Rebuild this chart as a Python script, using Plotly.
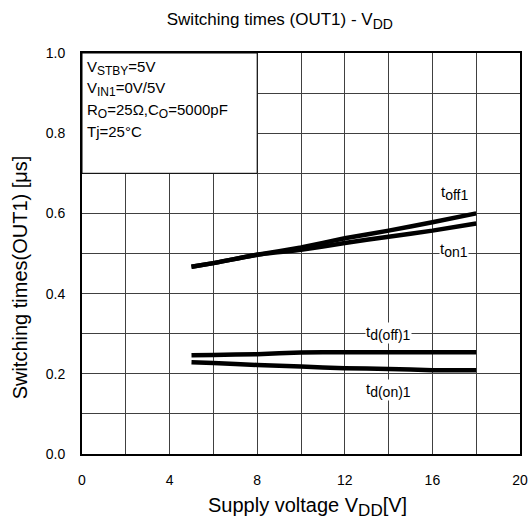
import plotly.graph_objects as go

# Supply voltage VDD [V]
vdd = [5, 6, 8, 10, 12, 14, 16, 18]

# Switching times [us]
t_off1 = [0.467, 0.476, 0.497, 0.515, 0.538, 0.557, 0.578, 0.600]
t_on1 = [0.467, 0.476, 0.497, 0.509, 0.526, 0.542, 0.557, 0.575]
td_off1 = [0.246, 0.247, 0.249, 0.253, 0.254, 0.254, 0.254, 0.254]
td_on1 = [0.229, 0.227, 0.222, 0.218, 0.214, 0.212, 0.209, 0.209]

x_ticks = [0, 4, 8, 12, 16, 20]
y_ticks = [0.0, 0.2, 0.4, 0.6, 0.8, 1.0]
y_tick_text = ["0.0", "0.2", "0.4", "0.6", "0.8", "1.0"]

FONT = "Liberation Sans, Arial, sans-serif"


def sub(txt, px):
    """Subscript with an explicit size (plotly's default 70% is too small)."""
    return f'<sub><span style="font-size:{px}px">{txt}</span></sub>'


conditions = [
    "V" + sub("STBY", 12) + "=5V",
    "V" + sub("IN1", 12) + "=0V/5V",
    "R" + sub("O", 12) + "=25Ω,C" + sub("O", 12) + "=5000pF",
    "Tj=25°C",
]

fig = go.Figure()
for ys in (t_off1, t_on1, td_off1, td_on1):
    fig.add_trace(go.Scatter(
        x=vdd, y=ys, mode="lines",
        line=dict(color="black", width=4.5, shape="spline", smoothing=0.4),
        showlegend=False, hoverinfo="skip",
    ))

# Conditions box in the upper-left corner
fig.add_shape(type="rect", x0=0, x1=8, y0=0.7, y1=1.0, xref="x", yref="y",
              line=dict(color="black", width=1), fillcolor="white", layer="above")

cond_y = [0.963, 0.909, 0.855, 0.804]
for txt, yy in zip(conditions, cond_y):
    fig.add_annotation(x=0.12, y=yy, xref="x", yref="y", text=txt, showarrow=False,
                       xanchor="left", yanchor="middle",
                       font=dict(family=FONT, size=15, color="black"))

# Curve labels
labels = [
    ("t" + sub("off1", 14), 17.0, 0.650, None),
    ("t" + sub("on1", 14), 17.0, 0.508, "white"),
    ("t" + sub("d(off)1", 14), 14.0, 0.302, "white"),
    ("t" + sub("d(on)1", 14), 14.0, 0.160, "white"),
]
for txt, xx, yy, bg in labels:
    fig.add_annotation(x=xx, y=yy, xref="x", yref="y", text=txt, showarrow=False,
                       xanchor="center", yanchor="middle", bgcolor=bg, borderpad=0,
                       font=dict(family=FONT, size=15, color="black"))

# Axis titles
fig.add_annotation(x=0.514, y=-0.132, xref="paper", yref="paper",
                   text="Supply voltage V" + sub("DD", 17) + "[V]", showarrow=False,
                   xanchor="center", yanchor="middle",
                   font=dict(family=FONT, size=20, color="black"))
fig.add_annotation(x=-0.142, y=0.44, xref="paper", yref="paper",
                   text="Switching times(OUT1) [μs]", showarrow=False, textangle=-90,
                   xanchor="center", yanchor="middle",
                   font=dict(family=FONT, size=20, color="black"))

fig.update_layout(
    width=530, height=529,
    margin=dict(l=82, r=10, t=53, b=75, autoexpand=False),
    paper_bgcolor="white", plot_bgcolor="white",
    font=dict(family=FONT, size=14, color="black"),
    title=dict(text="Switching times (OUT1) - V" + sub("DD", 14), x=0.528,
               xanchor="center", y=0.964, yanchor="middle",
               font=dict(family=FONT, size=17, color="black")),
)
fig.update_xaxes(
    range=[0, 20], tickvals=x_ticks, ticks="", showgrid=True, automargin=False,
    gridcolor="#404040", gridwidth=1, zeroline=False,
    minor=dict(dtick=2, tick0=0, showgrid=True, gridcolor="#404040", gridwidth=1),
    showline=True, linecolor="black", linewidth=2, mirror=True,
    ticklabelstandoff=12, tickfont=dict(size=14),
)
fig.update_yaxes(
    range=[0, 1.0], tickvals=y_ticks, ticktext=y_tick_text, ticks="", showgrid=True,
    automargin=False,
    gridcolor="#404040", gridwidth=1, zeroline=False,
    minor=dict(dtick=0.1, tick0=0, showgrid=True, gridcolor="#404040", gridwidth=1),
    showline=True, linecolor="black", linewidth=2, mirror=True,
    ticklabelstandoff=12, tickfont=dict(size=14),
)

fig.write_html("out.html")
